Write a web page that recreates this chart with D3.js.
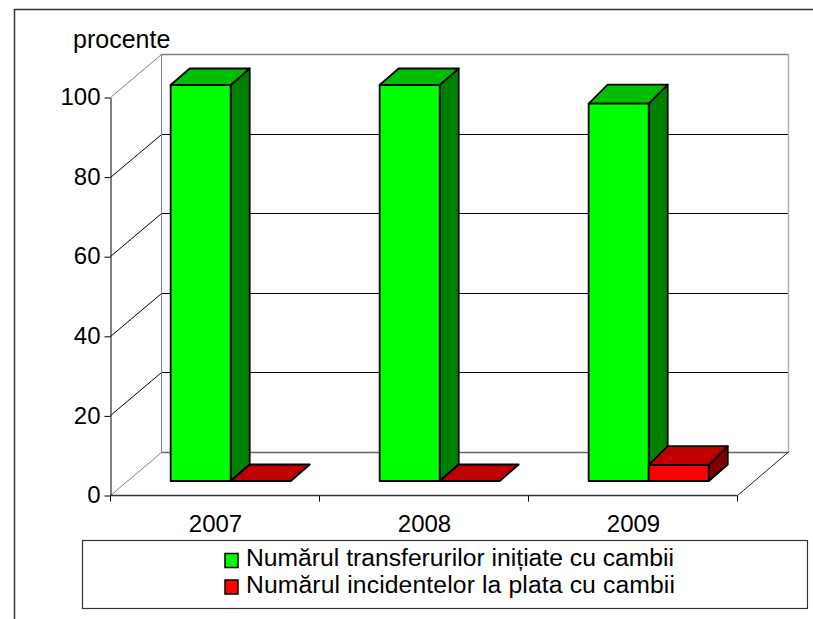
<!DOCTYPE html>
<html>
<head>
    <meta charset="utf-8">
    <title>Cambii</title>
    <script type="text/javascript" src="https://cdn.jsdelivr.net/npm/d3@7/dist/d3.min.js"></script>
    <style type="text/css">
        html, body { margin: 0; padding: 0; background: #fff; }
        svg { display: block; }
        text { font-family: "Liberation Sans", Arial, sans-serif; fill: #000; }
    </style>
</head>
<body>
<script type="text/javascript">
    var years = ["2007", "2008", "2009"],
        seriesNames = ["Numărul transferurilor inițiate cu cambii", "Numărul incidentelor la plata cu cambii"],
        transferuri = [99.5, 99.5, 94.8],
        incidente = [0, 0, 4],
        yTicks = [0, 20, 40, 60, 80, 100];

    var w = 813, h = 619,
        plotLeft = 110, plotRight = 737, plotTop = 97, plotBottom = 495,
        depthX = 51.5, depthY = -43,        // full depth of the floor
        barDepthX = 19, barDepthY = -16.5,  // depth of one bar
        topDepthY = [-16.5, -16.5, -19],    // the tops of the 2009 bars sit a bit steeper
        barShiftX = 16.2, barShiftY = -14;  // bar front plane from the front edge

    var x = d3.scaleBand().domain(years).range([plotLeft, plotRight]);
    var xInner = d3.scaleBand().domain(seriesNames).range([0, x.bandwidth()])
        .paddingInner(0).paddingOuter(0.74);
    var y = d3.scaleLinear().domain([0, 100]).range([plotBottom, plotTop]);

    var svg = d3.select("body").append("svg")
        .attr("width", w)
        .attr("height", h);

    // outer frame, open on the right and cut by the bottom of the picture
    svg.append("path")
        .attr("d", "M14.5,619V9.5H813")
        .attr("fill", "none")
        .attr("stroke", "#333")
        .attr("stroke-width", 1.5);

    // walls and gridlines
    var grid = svg.append("g").attr("fill", "none").attr("stroke-width", 1);

    yTicks.forEach(function (t) {
        var gy = Math.round(y(t)) + 0.5,
            edge = (t === 0 || t === 100) ? "#808080" : "#000";
        grid.append("line")
            .attr("x1", plotLeft + 0.5).attr("y1", gy)
            .attr("x2", plotLeft + depthX).attr("y2", gy + depthY)
            .attr("stroke", edge);
        grid.append("line")
            .attr("x1", plotLeft + depthX).attr("y1", gy + depthY)
            .attr("x2", plotRight + depthX).attr("y2", gy + depthY)
            .attr("stroke", t === 100 ? "#808080" : t === 0 ? "#666" : "#000")
            .attr("stroke-width", t === 0 || t === 100 ? 1.5 : 1);
    });

    grid.append("line")
        .attr("x1", plotLeft + depthX).attr("y1", y(100) + depthY)
        .attr("x2", plotLeft + depthX).attr("y2", y(0) + depthY)
        .attr("stroke", "#808080");
    grid.append("line")
        .attr("x1", plotRight + depthX).attr("y1", y(100) + depthY)
        .attr("x2", plotRight + depthX).attr("y2", y(0) + depthY)
        .attr("stroke", "#b0b0b0")
        .attr("stroke-width", 1.5);
    grid.append("line")
        .attr("x1", plotRight + 0.5).attr("y1", y(0) + 0.5)
        .attr("x2", plotRight + depthX).attr("y2", y(0) + depthY)
        .attr("stroke", "#222");

    // bars
    function drawBar(year, name, value, topDepth, front, topFace, sideFace) {
        var x0 = x(year) + xInner(name) + barShiftX,
            x1 = x0 + xInner.bandwidth(),
            y0 = y(0) + barShiftY,
            y1 = y(value) + barShiftY,
            g = svg.append("g").attr("stroke", "#000").attr("stroke-width", 1.8).attr("stroke-linejoin", "round");

        if (value > 0) {
            g.append("polygon")
                .attr("points", [[x1, y0], [x1 + barDepthX, y0 + barDepthY], [x1 + barDepthX, y1 + topDepth], [x1, y1]].join(" "))
                .attr("fill", sideFace);
        }
        g.append("polygon")
            .attr("points", [[x0, y1], [x0 + barDepthX, y1 + topDepth], [x1 + barDepthX, y1 + topDepth], [x1, y1]].join(" "))
            .attr("fill", topFace);
        if (value > 0) {
            g.append("rect")
                .attr("x", x0).attr("y", y1)
                .attr("width", x1 - x0).attr("height", y0 - y1)
                .attr("fill", front);
        }
    }

    // green before red, the red faces lie over the foot of the green side
    years.forEach(function (year, i) {
        drawBar(year, seriesNames[0], transferuri[i], topDepthY[i], "#00ff00", "#00bf00", "#008000");
        drawBar(year, seriesNames[1], incidente[i], topDepthY[i], "#ff0000", "#bf0000", "#800000");
    });

    // axes
    var yAxis = svg.append("g")
        .attr("transform", "translate(" + (plotLeft + 0.5) + ",0.5)")
        .call(d3.axisLeft(y).tickValues(yTicks).tickSize(6).tickPadding(4).tickSizeOuter(0));
    yAxis.select(".domain").attr("stroke", "#000");
    yAxis.selectAll("text").style("font-size", "24px").attr("dy", "0.3em");

    var xAxis = svg.append("g")
        .attr("transform", "translate(0," + (plotBottom + 0.5) + ")")
        .call(d3.axisBottom(x).tickSize(0).tickPadding(19));
    xAxis.select(".domain").attr("stroke", "#333").attr("stroke-width", 1.5).attr("d", "M" + plotLeft + ",0H" + plotRight);
    xAxis.selectAll("text").style("font-size", "24px").attr("dx", 1);
    xAxis.selectAll(".sep").data(d3.range(years.length + 1)).enter().append("line")
        .attr("class", "sep")
        .attr("x1", function (d) { return plotLeft + 0.5 + d * x.step(); })
        .attr("x2", function (d) { return plotLeft + 0.5 + d * x.step(); })
        .attr("y1", 0).attr("y2", 6)
        .attr("stroke", "#000");

    svg.append("text")
        .attr("x", 73).attr("y", 48)
        .style("font-size", "25px")
        .text("procente");

    // legend
    svg.append("rect")
        .attr("x", 82.5).attr("y", 540.5)
        .attr("width", 725).attr("height", 68)
        .attr("fill", "#fff")
        .attr("stroke", "#333")
        .attr("stroke-width", 1.2);

    var legend = svg.selectAll(".legend").data(seriesNames).enter().append("g")
        .attr("class", "legend")
        .attr("transform", function (d, i) { return "translate(0," + (566 + i * 26.5) + ")"; });
    legend.append("rect")
        .attr("x", 225).attr("y", -12.5)
        .attr("width", 13).attr("height", 14)
        .attr("fill", function (d, i) { return i === 0 ? "#00ff00" : "#ff0000"; })
        .attr("stroke", "#000")
        .attr("stroke-width", 1.5);
    legend.append("text")
        .attr("x", 246).attr("y", 0)
        .style("font-size", "24.7px")
        .style("letter-spacing", function (d, i) { return i === 0 ? "0" : "0.13px"; })
        .text(function (d) { return d; });
</script>
</body>
</html>
